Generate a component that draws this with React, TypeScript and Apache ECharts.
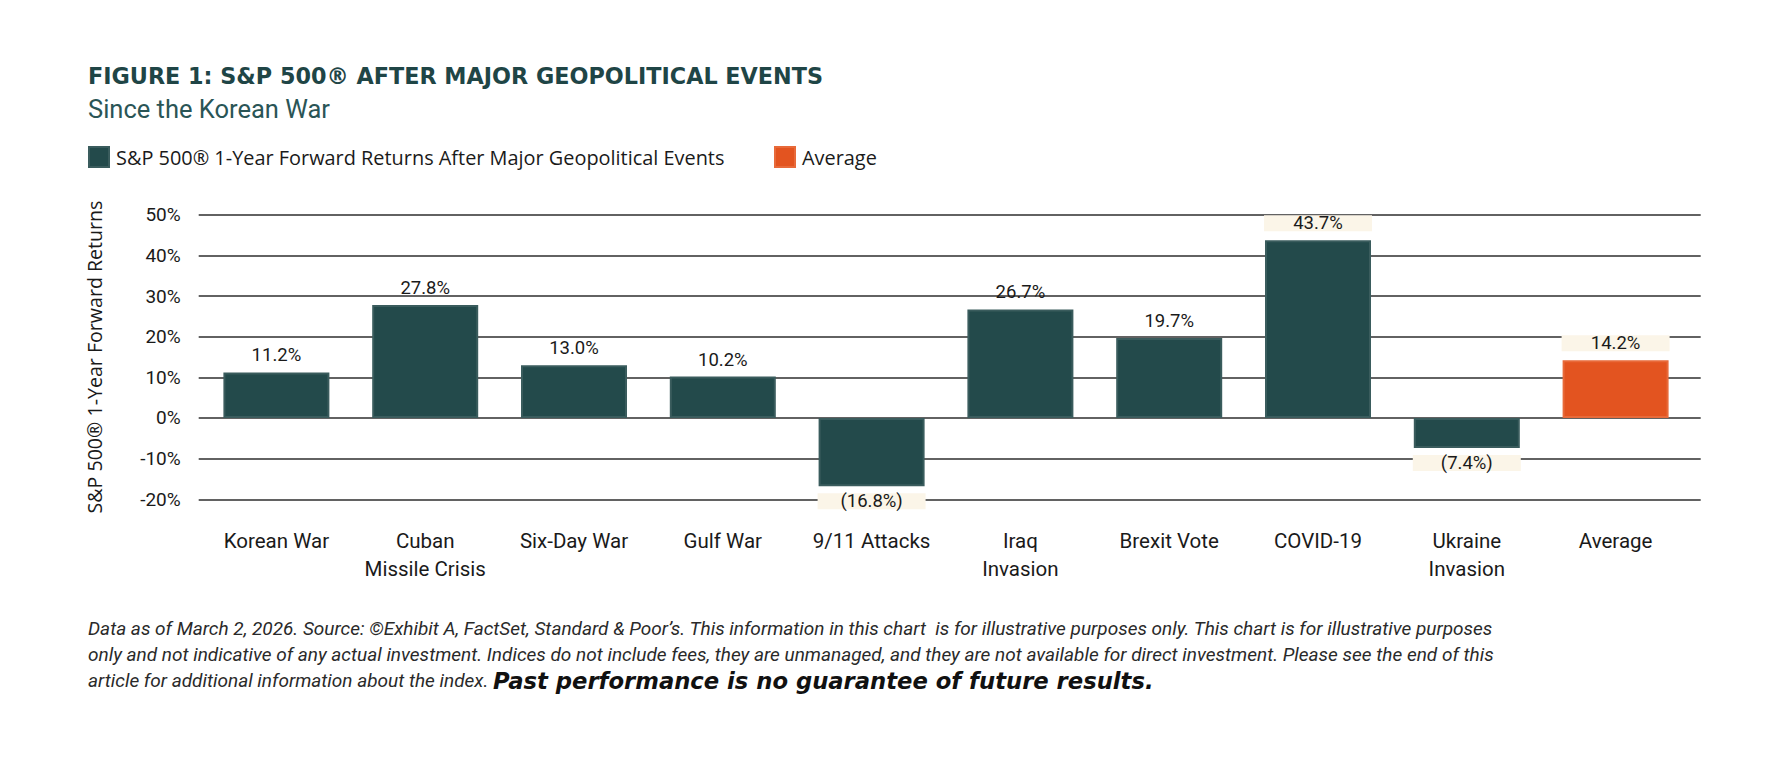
import React, { useEffect, useRef } from 'react';
import * as echarts from 'echarts';

const categories = [
  'Korean War',
  'Cuban\nMissile Crisis',
  'Six-Day War',
  'Gulf War',
  '9/11 Attacks',
  'Iraq\nInvasion',
  'Brexit Vote',
  'COVID-19',
  'Ukraine\nInvasion',
  'Average',
];
const eventReturns: (number | null)[] = [11.2, 27.8, 13.0, 10.2, -16.8, 26.7, 19.7, 43.7, -7.4, null];
const averageReturns: (number | null)[] = [null, null, null, null, null, null, null, null, null, 14.2];
const yMin = -20;
const yMax = 50;
const yStep = 10;
const seriesNames = ['S&P 500® 1-Year Forward Returns After Major Geopolitical Events', 'Average'];
const boxedLabels = ['9/11 Attacks', 'COVID-19', 'Ukraine\nInvasion', 'Average'];

const titleText = 'FIGURE 1: S&P 500® AFTER MAJOR GEOPOLITICAL EVENTS';
const subtitleText = 'Since the Korean War';
const yAxisName = 'S&P 500® 1-Year Forward Returns';
const footerLines = [
  'Data as of March 2, 2026. Source: ©Exhibit A, FactSet, Standard & Poor’s. This information in this chart  is for illustrative purposes only. This chart is for illustrative purposes',
  'only and not indicative of any actual investment. Indices do not include fees, they are unmanaged, and they are not available for direct investment. Please see the end of this',
  'article for additional information about the index. ',
];
const footerEmphasis = 'Past performance is no guarantee of future results.';

const TEAL = '#234a4b';
const ORANGE = '#e35420';
const CREAM = '#fbf5e8';
const INK = '#1a1a1a';
const FONT = 'Roboto, "Noto Sans", sans-serif';
const WIDE = '"Open Sans", Roboto, sans-serif';
const HEAVY = '"DejaVu Sans", sans-serif';

const fmt = (v: number) => (v < 0 ? `(${Math.abs(v).toFixed(1)}%)` : `${v.toFixed(1)}%`);

const toData = (vals: (number | null)[]) =>
  vals.map((v, i) =>
    v == null
      ? '-'
      : {
          value: v,
          label: {
            position: v < 0 ? 'bottom' : 'top',
            distance: v < 0 ? 7 : 9,
            backgroundColor: boxedLabels.includes(categories[i]) ? CREAM : 'transparent',
          },
        }
  );

const labelStyle = {
  show: true,
  formatter: (p: any) => fmt(Number(p.value)),
  fontFamily: FONT,
  fontSize: 18.5,
  color: INK,
  width: 108,
  height: 16,
  lineHeight: 16,
  align: 'center',
};

export default function App() {
  const ref = useRef<HTMLDivElement>(null);
  useEffect(() => {
    if (!ref.current) return;
    const chart = echarts.init(ref.current, null, { renderer: 'svg' });
    const gridTop = 214.7;
    const gridBottom = 763 - 499.3;
    const legendText = { fontFamily: WIDE, fontSize: 19.9, color: INK, lineHeight: 20, padding: [0, 0, 0, 2] };
    const option: any = {
      animation: false,
      backgroundColor: '#ffffff',
      textStyle: { fontFamily: FONT },
      title: [
        {
          text: titleText,
          left: 88,
          top: 64,
          padding: 0,
          textStyle: { fontFamily: HEAVY, fontSize: 22.3, fontWeight: 'bold', color: '#1f4546', lineHeight: 24 },
        },
        {
          text: subtitleText,
          left: 88,
          top: 95,
          padding: 0,
          textStyle: { fontFamily: FONT, fontSize: 25.5, fontWeight: 'normal', color: '#2a5556', lineHeight: 28 },
        },
      ],
      legend: [
        {
          left: 88,
          top: 146,
          padding: 0,
          data: [seriesNames[0]],
          icon: 'rect',
          itemWidth: 20,
          itemHeight: 20,
          itemGap: 0,
          textStyle: legendText,
        },
        {
          left: 774,
          top: 146,
          padding: 0,
          data: [seriesNames[1]],
          icon: 'rect',
          itemWidth: 20,
          itemHeight: 20,
          itemGap: 0,
          textStyle: legendText,
        },
      ],
      grid: [
        { left: 202, right: 95, top: gridTop, bottom: gridBottom, containLabel: false },
        { left: 198.7, right: 84.3, top: gridTop, bottom: gridBottom, containLabel: false },
      ],
      xAxis: [
        {
          gridIndex: 0,
          type: 'category',
          data: categories,
          axisLine: { show: false },
          axisTick: { show: false },
          splitLine: { show: false },
          axisLabel: { interval: 0, fontFamily: FONT, fontSize: 20.5, color: INK, lineHeight: 28, margin: 28 },
        },
        { gridIndex: 1, type: 'value', min: 0, max: 1, show: false },
      ],
      yAxis: [
        { gridIndex: 0, type: 'value', min: yMin, max: yMax, interval: yStep, show: false },
        {
          gridIndex: 1,
          type: 'value',
          min: yMin,
          max: yMax,
          interval: yStep,
          axisLine: { show: false },
          axisTick: { show: false },
          splitLine: { show: true, lineStyle: { color: '#2e2e2e', width: 1.6 } },
          axisLabel: { formatter: '{value}%', fontFamily: FONT, fontSize: 19, color: INK, margin: 18 },
          name: yAxisName,
          nameLocation: 'middle',
          nameRotate: 90,
          nameGap: 94,
          nameTextStyle: { fontFamily: WIDE, fontSize: 19.6, color: INK },
        },
      ],
      series: [
        {
          name: seriesNames[0],
          type: 'bar',
          xAxisIndex: 0,
          yAxisIndex: 0,
          barWidth: 106,
          barGap: '-100%',
          data: toData(eventReturns),
          itemStyle: { color: TEAL, borderColor: '#3a5c5d', borderWidth: 2 },
          label: labelStyle,
          z: 3,
        },
        {
          name: seriesNames[1],
          type: 'bar',
          xAxisIndex: 0,
          yAxisIndex: 0,
          barWidth: 106,
          barGap: '-100%',
          data: toData(averageReturns),
          itemStyle: { color: ORANGE, borderColor: '#e86a3a', borderWidth: 2 },
          label: labelStyle,
          z: 3,
        },
      ],
      graphic: [
        {
          type: 'text',
          left: 88,
          top: 619,
          style: {
            text:
              footerLines.slice(0, -1).map((l) => `{n|${l}}`).join('\n') +
              `\n{n|${footerLines[footerLines.length - 1]}}{b|${footerEmphasis}}`,
            rich: {
              n: { fontFamily: FONT, fontSize: 19, fontStyle: 'italic', fill: '#2a2a2a', lineHeight: 26 },
              b: { fontFamily: HEAVY, fontSize: 22.7, fontStyle: 'italic', fontWeight: 'bold', fill: '#111111', lineHeight: 26 },
            },
          },
        },
      ],
    };
    chart.setOption(option);
    return () => chart.dispose();
  }, []);
  return (
    <div
      ref={ref}
      style={{ position: 'fixed', left: 0, top: 0, width: 1785, height: 763, background: '#ffffff' }}
    />
  );
}
